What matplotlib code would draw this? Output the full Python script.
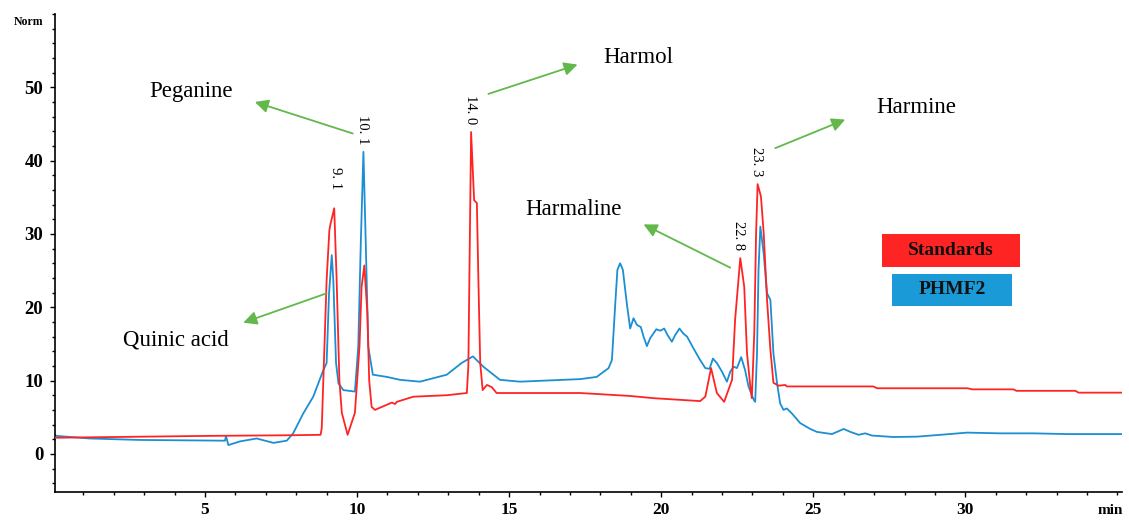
import matplotlib
matplotlib.use("Agg")
import matplotlib.pyplot as plt
from matplotlib.patches import Rectangle
from matplotlib.ticker import MultipleLocator

# Retention time (min) and normalized signal
red_t = [0.07, 2.0, 5.0, 8.0, 8.80, 8.84, 9.00, 9.09, 9.13, 9.25, 9.33, 9.42, 9.50, 9.69,
         9.93, 10.08, 10.15, 10.24, 10.34, 10.40, 10.48, 10.59, 10.98, 11.15, 11.25, 11.31,
         11.85, 12.95, 13.61, 13.66, 13.75, 13.85, 13.94, 13.99, 14.05, 14.13, 14.27, 14.43,
         14.59, 15.36, 17.34, 18.98, 19.74, 21.28, 21.45, 21.64, 21.83, 22.07, 22.33, 22.43,
         22.60, 22.73, 22.82, 22.93, 22.98, 23.06, 23.12, 23.17, 23.28, 23.37, 23.48, 23.59,
         23.69, 23.86, 24.08, 24.13, 26.97, 27.10, 30.07, 30.23, 31.58, 31.68, 33.62, 33.72,
         35.15]
red_v = [2.2, 2.3, 2.45, 2.55, 2.6, 3.5, 23.7, 30.5, 31.4, 33.5, 23.7, 10.0, 5.6, 2.6,
         5.6, 14.6, 22.8, 25.7, 19.2, 10.0, 6.4, 6.0, 6.7, 7.0, 6.8, 7.1,
         7.8, 8.0, 8.3, 12.0, 43.9, 34.6, 34.2, 23.7, 12.4, 8.7, 9.4, 9.1,
         8.3, 8.3, 8.3, 7.9, 7.6, 7.2, 7.8, 11.7, 8.3, 7.1, 10.1, 18.3,
         26.7, 22.8, 13.8, 9.2, 7.6, 16.5, 30.1, 36.8, 35.1, 30.1, 21.0, 14.2,
         9.7, 9.3, 9.4, 9.2, 9.2, 8.95, 8.95, 8.8, 8.8, 8.6, 8.6, 8.35,
         8.35]

blue_t = [0.07, 0.12, 1.22, 2.86, 5.66, 5.69, 5.77, 6.15, 6.70, 7.25, 7.69, 7.90, 8.23,
          8.56, 8.89, 9.00, 9.08, 9.17, 9.22, 9.31, 9.39, 9.55, 9.93, 10.04, 10.12, 10.21,
          10.29, 10.37, 10.52, 10.98, 11.41, 12.07, 12.95, 13.44, 13.81, 14.15, 14.70, 15.36,
          17.34, 17.88, 18.27, 18.38, 18.49, 18.56, 18.65, 18.74, 18.87, 18.98, 19.09, 19.20,
          19.33, 19.42, 19.53, 19.64, 19.84, 19.97, 20.10, 20.21, 20.35, 20.46, 20.60, 20.73,
          20.85, 21.06, 21.28, 21.45, 21.59, 21.70, 21.83, 22.00, 22.16, 22.27, 22.38, 22.49,
          22.63, 22.76, 22.87, 23.04, 23.09, 23.15, 23.20, 23.26, 23.37, 23.48, 23.59, 23.69,
          23.81, 23.91, 24.02, 24.13, 24.30, 24.57, 24.90, 25.12, 25.61, 25.78, 26.00, 26.22,
          26.49, 26.71, 26.93, 27.64, 28.41, 29.18, 30.06, 31.15, 32.25, 33.35, 35.15]
blue_v = [2.6, 2.45, 2.1, 1.9, 1.8, 2.45, 1.2, 1.7, 2.1, 1.5, 1.8, 2.8, 5.5,
          7.8, 11.4, 12.4, 21.9, 27.1, 23.7, 12.4, 9.6, 8.7, 8.5, 14.6, 28.2, 41.2,
          28.2, 14.6, 10.8, 10.5, 10.1, 9.85, 10.8, 12.4, 13.3, 11.9, 10.1, 9.85,
          10.2, 10.5, 11.7, 12.8, 20.5, 25.1, 26.0, 25.1, 20.5, 17.1, 18.5, 17.6,
          17.3, 16.0, 14.7, 15.8, 17.0, 16.8, 17.1, 16.2, 15.3, 16.2, 17.1, 16.4,
          16.0, 14.4, 12.8, 11.7, 11.6, 13.0, 12.4, 11.2, 9.85, 11.2, 11.9, 11.7,
          13.2, 11.4, 9.2, 7.4, 7.1, 13.7, 25.1, 31.0, 27.3, 21.9, 21.0, 13.7,
          9.6, 6.9, 6.0, 6.2, 5.5, 4.2, 3.4, 3.0, 2.7, 3.0, 3.4, 3.0,
          2.6, 2.8, 2.5, 2.3, 2.35, 2.6, 2.9, 2.8, 2.8, 2.7, 2.7]

# Peak retention-time labels (text, x, y)
peak_labels = ["9. 1", "10. 1", "14. 0", "22. 8", "23. 3"]
peak_x = [9.28, 10.18, 13.72, 22.54, 23.13]
peak_y = [37.6, 44.2, 46.9, 29.8, 39.8]

# Compound names with arrows (name, text pos, arrow tail, arrow head)
compounds = ["Peganine", "Quinic acid", "Harmol", "Harmaline", "Harmine"]
name_xy = [(4.54, 49.4), (4.05, 15.5), (19.24, 54.0), (17.11, 33.3), (28.39, 47.3)]
arrow_tail = [(9.86, 43.7), (9.00, 21.9), (14.32, 49.1), (22.27, 25.4), (23.75, 41.7)]
arrow_head = [(6.64, 48.0), (6.26, 17.9), (17.25, 53.1), (19.42, 31.3), (26.05, 45.6)]

series_names = ["Standards", "PHMF2"]

RED = "#ff2424"
BLUE = "#1b8fd2"
GREEN = "#62b84a"

plt.rcParams["font.family"] = ["Liberation Serif", "DejaVu Serif"]

fig = plt.figure(figsize=(11.29, 5.2), dpi=100)
ax = fig.add_axes([55 / 1129, 1 - 492 / 520, (1122 - 55) / 1129, (492 - 14) / 520])

ax.plot(red_t, red_v, color=RED, lw=1.3, zorder=3)
ax.plot(blue_t, blue_v, color=BLUE, lw=1.3, zorder=2)

ax.set_xlim(0.07, 35.15)
ax.set_ylim(-5.2, 60)

ax.spines["top"].set_visible(False)
ax.spines["right"].set_visible(False)
ax.spines["left"].set_linewidth(1.2)
ax.spines["bottom"].set_linewidth(1.2)

ax.set_xticks([5, 10, 15, 20, 25, 30])
ax.set_yticks([0, 10, 20, 30, 40, 50])
ax.xaxis.set_minor_locator(MultipleLocator(1))
ax.yaxis.set_minor_locator(MultipleLocator(2))
ax.tick_params(axis="both", which="major", direction="out", length=3.5, width=1,
               labelsize=13.5)
ax.tick_params(axis="both", which="minor", direction="out", length=2, width=1)
ax.tick_params(axis="x", pad=4, labelsize=12.5)
ax.tick_params(axis="y", pad=5)
for lab in ax.get_xticklabels() + ax.get_yticklabels():
    lab.set_fontweight("bold")

ax.text(34.75, -0.026, "min", transform=ax.get_xaxis_transform(), ha="center",
        va="top", fontsize=11, fontweight="bold")
fig.text(28 / 1129, 1 - 22 / 520, "Norm", ha="center", va="center", fontsize=8.5,
         fontweight="bold")

for lab, x, y in zip(peak_labels, peak_x, peak_y):
    ax.text(x, y, lab, rotation=270, ha="center", va="center", fontsize=10.5)

for name, pos, tail, head in zip(compounds, name_xy, arrow_tail, arrow_head):
    ax.annotate("", xy=head, xytext=tail,
                arrowprops=dict(arrowstyle="-|>", color=GREEN, lw=1.3,
                                mutation_scale=20, shrinkA=0, shrinkB=0))
    ax.text(pos[0], pos[1], name, ha="center", va="center", fontsize=16.5)

# legend boxes
boxes = [(882, 234, 1020, 267, RED), (892, 274, 1012, 306, "#1a9ad6")]
for name, (x0, y0, x1, y1, c) in zip(series_names, boxes):
    fig.patches.append(Rectangle((x0 / 1129, 1 - y1 / 520), (x1 - x0) / 1129,
                                 (y1 - y0) / 520, transform=fig.transFigure,
                                 facecolor=c, edgecolor="none"))
    fig.text((x0 + x1) / 2 / 1129, 1 - (y0 + y1) / 2 / 520, name, ha="center",
             va="center", fontsize=14, fontweight="bold", color="#111111")

fig.savefig("out.png", dpi=100)
